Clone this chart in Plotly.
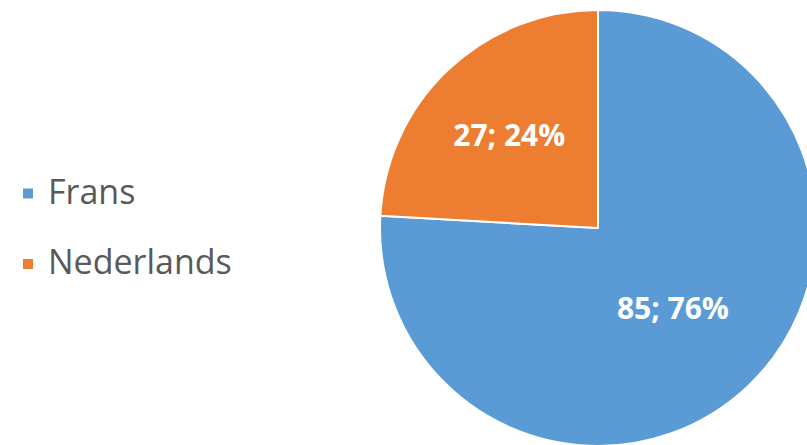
import plotly.graph_objects as go

labels = ["Frans", "Nederlands"]
values = [85, 27]
colors = ["#5B9BD5", "#ED7D31"]

W, H = 820, 450
legend_labels = ["<span style='font-size:34px'>%s</span><br> " % s for s in labels]

fig = go.Figure(go.Pie(
    labels=legend_labels,
    values=values,
    customdata=labels,
    sort=False,
    direction="clockwise",
    rotation=0,
    marker=dict(colors=colors, line=dict(color="white", width=2)),
    texttemplate="%{value}; %{percent:.0%}",
    textposition="inside",
    insidetextorientation="horizontal",
    textfont=dict(family="Open Sans", size=30, color="white", weight="bold"),
    domain=dict(x=[380 / W, 816 / W], y=[4 / H, 440 / H]),
    hovertemplate="%{customdata}: %{value} (%{percent})<extra></extra>",
))
fig.update_layout(
    width=W, height=H, autosize=False,
    margin=dict(l=0, r=0, t=0, b=0),
    paper_bgcolor="white",
    showlegend=True,
    legend=dict(
        x=8 / W, xanchor="left", y=1 - 170 / H, yanchor="top",
        font=dict(family="Open Sans", size=26, color="#595959"),
        valign="top",
        itemwidth=30,
    ),
)
fig.write_html("out.html", config={"displayModeBar": False},
               post_script="document.body.style.margin='0';document.body.style.overflow='hidden';")
